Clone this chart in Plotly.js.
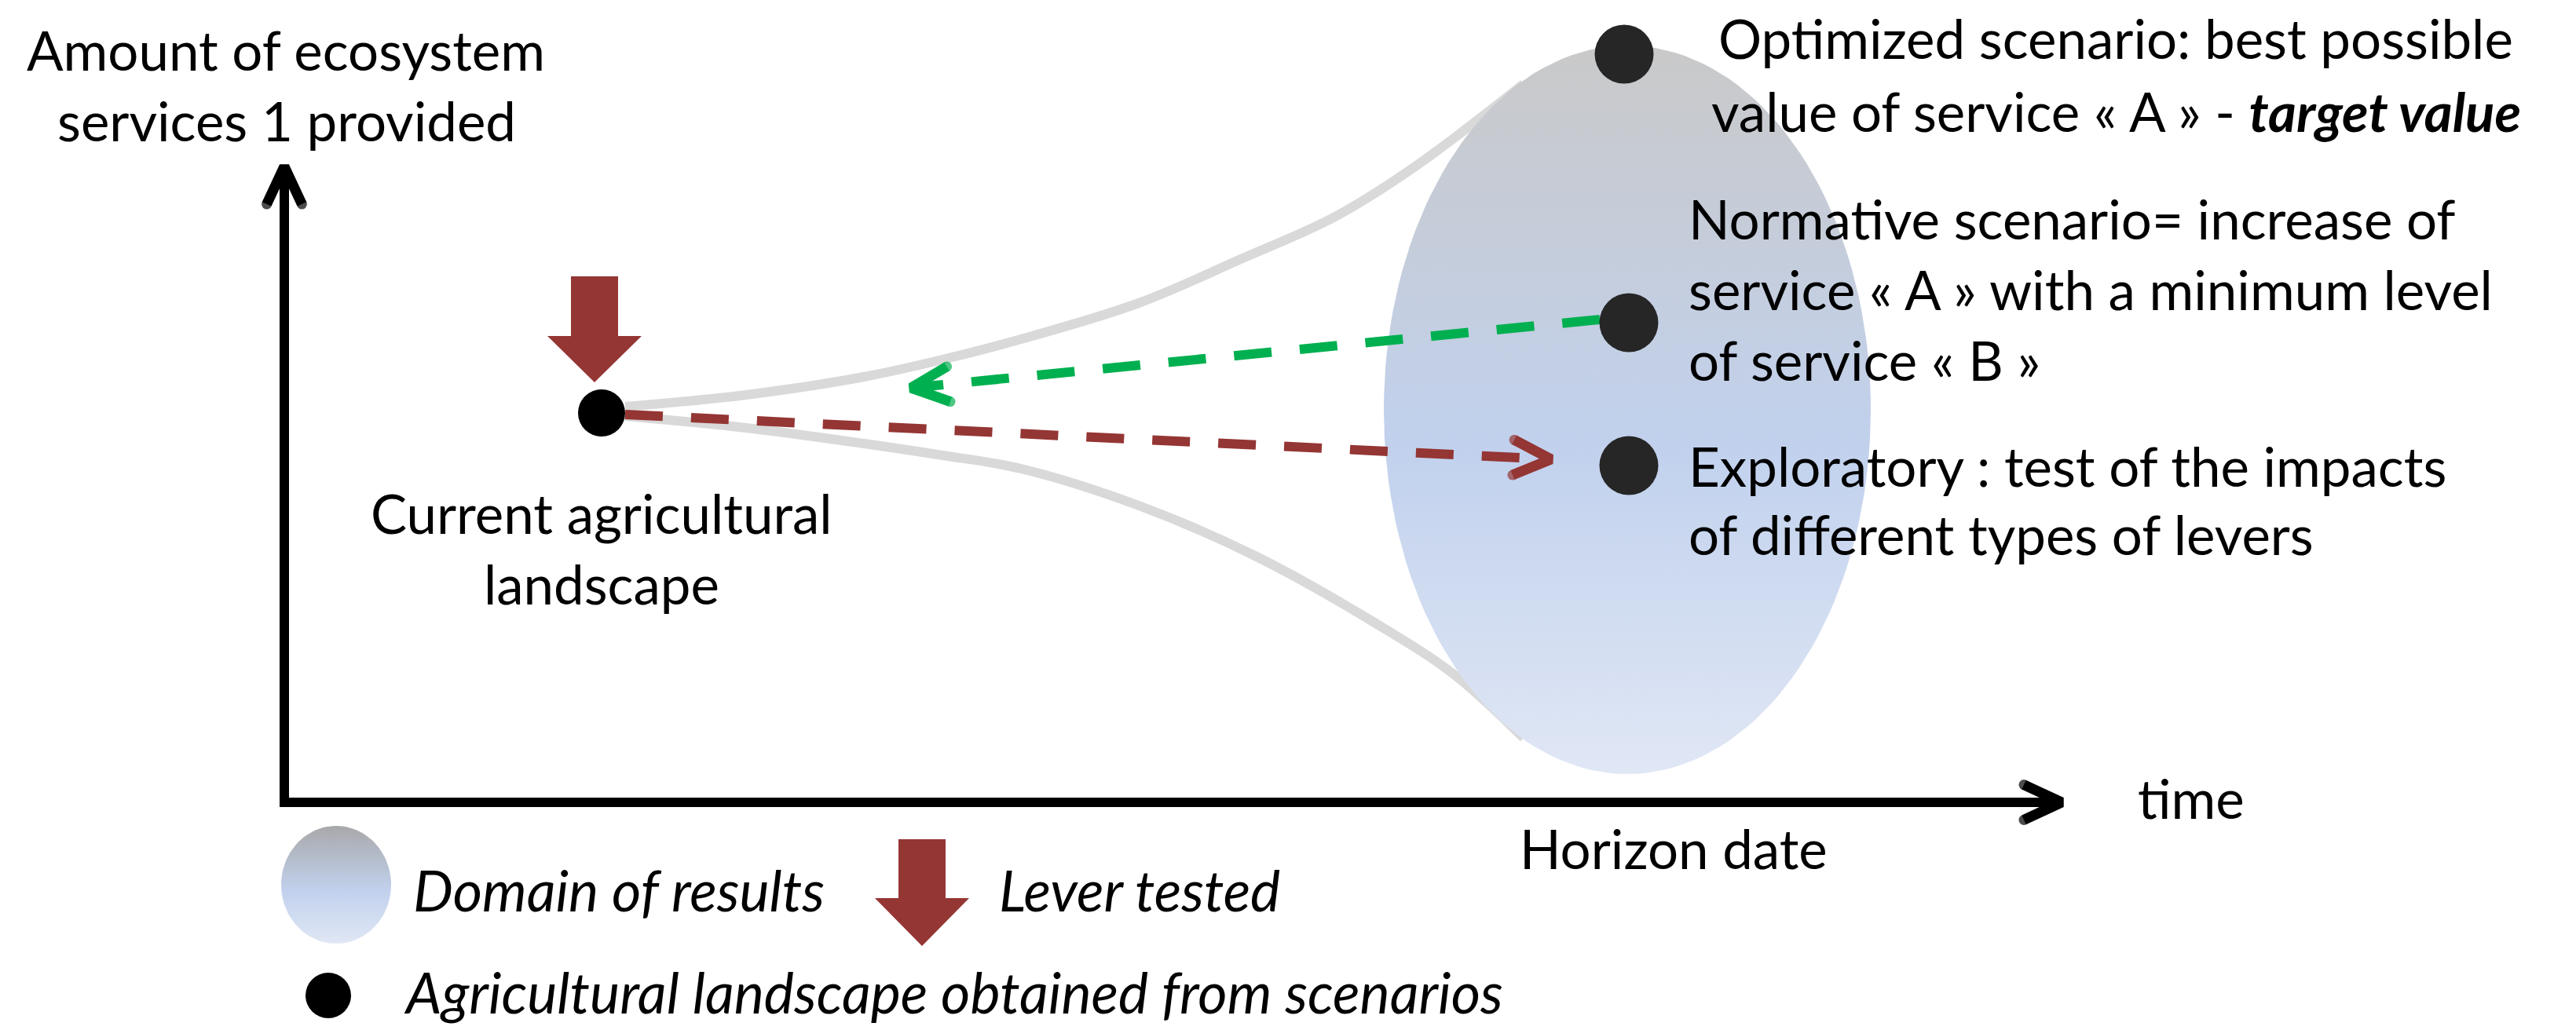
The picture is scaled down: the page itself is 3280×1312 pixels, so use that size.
<!DOCTYPE html>
<html>
<head>
<meta charset="utf-8">
<script src="https://cdn.plot.ly/plotly-3.0.1.min.js"></script>
<style>
html, body { margin: 0; padding: 0; background: #ffffff; }
#chart { width: 3280px; height: 1312px; }
</style>
</head>
<body>
<div id="chart"></div>
<script>
// ---------------- data (diagram coordinates) ----------------
const currentLandscapeX = [766];
const currentLandscapeY = [526];

const scenarioNames = ["Optimized", "Normative", "Exploratory"];
const scenarioX = [2068, 2074, 2074];
const scenarioY = [69, 411, 593];

const upperEnvelopeX = [796, 950, 1100, 1200, 1300, 1450, 1580, 1700, 1802, 1940];
const upperEnvelopeY = [518, 503, 480, 458, 432, 386, 330, 276, 212, 107];
const lowerEnvelopeX = [796, 950, 1100, 1200, 1300, 1450, 1600, 1750, 1850, 1940];
const lowerEnvelopeY = [530, 545, 565, 580, 597, 644, 709, 793, 858, 940];

const domainCenter = [2072, 522];
const domainRadii = [310, 464];

const normativePathX = [2037, 1160];
const normativePathY = [407, 494];
const exploratoryPathX = [796, 1975];
const exploratoryPathY = [528, 585];

const axesX = [362, 362, 2625];
const axesY = [212, 1022, 1022];

const leverArrow = {cx: 757, top: 352, headStart: 428, tip: 487};
const legendLeverArrow = {cx: 1174, top: 1069, headStart: 1144, tip: 1205};
const legendDomainCenter = [428, 1127];
const legendDomainRadii = [70, 75];
const legendDotX = [418];
const legendDotY = [1268];

const yTitleLines = ["Amount of ecosystem", "services 1 provided"];
const yTitleX = [364, 365];
const yTitleY = [63, 153];

const optimizedLines = ["Optimized scenario: best possible",
  "value of service « A » - <b><i>target value</i></b>"];
const optimizedY = [48, 141];
const normativeLines = ["Normative scenario= increase of",
  "service « A » with a minimum level", "of service « B »"];
const normativeY = [278, 368, 458];
const exploratoryLines = ["Exploratory : test of the impacts", "of different types of levers"];
const exploratoryY = [593, 680];
const scenarioTextX = 2148;
const optimizedTextX = 2694;

const currentLines = ["Current agricultural", "landscape"];
const currentTextY = [653, 743];

const legendLabels = ["Domain of results", "Lever tested", "Agricultural landscape obtained from scenarios"];
const legendLabelX = [524, 1270, 512];
const legendLabelY = [1133, 1133, 1263];

// ---------------- styles ----------------
const FONT = "Lato, 'Open Sans', sans-serif";
const FS = 69;
const FS_LEGEND = 72;
const RED = "#943634";
const GREEN = "#00b050";
const GREY_CURVE = "#d9d9d9";
const DOT_DARK = "#262626";
const HEAD_LEN = 53, HEAD_ANG = 25 * Math.PI / 180;

const traces = [];

// gray envelope curves
[[upperEnvelopeX, upperEnvelopeY], [lowerEnvelopeX, lowerEnvelopeY]].forEach(([xs, ys]) => {
  traces.push({x: xs, y: ys, mode: "lines", line: {color: GREY_CURVE, width: 12, shape: "spline", smoothing: 1},
    hoverinfo: "skip"});
});

function ellipsePts(c, r, n) {
  const xs = [], ys = [];
  for (let i = 0; i <= n; i++) {
    const t = 2 * Math.PI * i / n;
    xs.push(c[0] + r[0] * Math.cos(t));
    ys.push(c[1] + r[1] * Math.sin(t));
  }
  return [xs, ys];
}

// domain of results (gradient ellipse)
(function () {
  const [xs, ys] = ellipsePts(domainCenter, domainRadii, 160);
  traces.push({x: xs, y: ys, mode: "lines", fill: "toself", line: {width: 0, color: "rgba(0,0,0,0)"},
    fillgradient: {type: "vertical", start: domainCenter[1] + domainRadii[1], stop: domainCenter[1] - domainRadii[1],
      colorscale: [[0, "rgb(224,231,245)"], [0.45, "rgb(193,209,237)"], [1, "rgb(201,201,201)"]]},
    hoverinfo: "skip"});
})();

function chevron(tipX, tipY, fromX, fromY) {
  const dx = tipX - fromX, dy = tipY - fromY;
  const len = Math.hypot(dx, dy);
  const bx = -dx / len, by = -dy / len; // back direction
  const rot = (a) => [bx * Math.cos(a) - by * Math.sin(a), bx * Math.sin(a) + by * Math.cos(a)];
  const a1 = rot(HEAD_ANG), a2 = rot(-HEAD_ANG);
  return {
    x: [tipX + HEAD_LEN * a1[0], tipX, tipX + HEAD_LEN * a2[0]],
    y: [tipY + HEAD_LEN * a1[1], tipY, tipY + HEAD_LEN * a2[1]],
    ux: -bx, uy: -by
  };
}

function dashedArrow(px, py, color) {
  const ch = chevron(px[1], py[1], px[0], py[0]);
  const endX = px[1] - ch.ux * 12, endY = py[1] - ch.uy * 12;
  traces.push({x: [px[0], endX], y: [py[0], endY], mode: "lines",
    line: {color: color, width: 12, dash: "48px,36px"}, hoverinfo: "skip"});
  traces.push({x: ch.x, y: ch.y, mode: "lines+markers", line: {color: color, width: 13},
    marker: {size: [13, 0, 13], color: color, line: {width: 0}}, hoverinfo: "skip"});
}
dashedArrow(normativePathX, normativePathY, GREEN);
dashedArrow(exploratoryPathX, exploratoryPathY, RED);

// scenario dots
traces.push({x: scenarioX, y: scenarioY, text: scenarioNames, mode: "markers",
  marker: {size: 75, color: DOT_DARK, line: {width: 0}}, hoverinfo: "text"});
// current landscape dot
traces.push({x: currentLandscapeX, y: currentLandscapeY, mode: "markers",
  marker: {size: 60, color: "#000000", line: {width: 0}}, hoverinfo: "skip"});

function blockArrow(a) {
  const sw = 30, hw = 60;
  traces.push({
    x: [a.cx - sw, a.cx + sw, a.cx + sw, a.cx + hw, a.cx, a.cx - hw, a.cx - sw, a.cx - sw],
    y: [a.top, a.top, a.headStart, a.headStart, a.tip, a.headStart, a.headStart, a.top],
    mode: "lines", fill: "toself", fillcolor: RED, line: {width: 0, color: RED}, hoverinfo: "skip"});
}
blockArrow(leverArrow);
blockArrow(legendLeverArrow);

// axes
traces.push({x: axesX, y: axesY, mode: "lines", line: {color: "#000000", width: 12}, hoverinfo: "skip"});
[[axesX[0], axesY[0], axesX[1], axesY[1]], [axesX[2], axesY[2], axesX[1], axesY[1]]].forEach(([tx, ty, fx, fy]) => {
  const ch = chevron(tx, ty, fx, fy);
  traces.push({x: ch.x, y: ch.y, mode: "lines+markers", line: {color: "#000000", width: 13},
    marker: {size: [13, 0, 13], color: "#000000", line: {width: 0}}, hoverinfo: "skip"});
});

// legend symbols
(function () {
  const [xs, ys] = ellipsePts(legendDomainCenter, legendDomainRadii, 100);
  traces.push({x: xs, y: ys, mode: "lines", fill: "toself", line: {width: 0, color: "rgba(0,0,0,0)"},
    fillgradient: {type: "vertical", start: legendDomainCenter[1] + legendDomainRadii[1],
      stop: legendDomainCenter[1] - legendDomainRadii[1],
      colorscale: [[0, "rgb(224,231,245)"], [0.45, "rgb(193,209,237)"], [1, "rgb(168,168,170)"]]},
    hoverinfo: "skip"});
})();
traces.push({x: legendDotX, y: legendDotY, mode: "markers",
  marker: {size: 58, color: "#000000", line: {width: 0}}, hoverinfo: "skip"});

// ---------------- text ----------------
const annotations = [];
function addText(text, x, y, anchor, size) {
  annotations.push({text: text, x: x, y: y, xref: "x", yref: "y", xanchor: anchor, yanchor: "middle",
    showarrow: false, font: {family: FONT, size: size || FS, color: "#000000"}});
}
yTitleLines.forEach((t, i) => addText(t, yTitleX[i], yTitleY[i], "center"));
optimizedLines.forEach((t, i) => addText(t, optimizedTextX, optimizedY[i], "center"));
normativeLines.forEach((t, i) => addText(t, scenarioTextX, normativeY[i], "left"));
exploratoryLines.forEach((t, i) => addText(t, scenarioTextX, exploratoryY[i], "left"));
currentLines.forEach((t, i) => addText(t, currentLandscapeX[0], currentTextY[i], "center"));
addText("time", 2720, 1016, "left");
addText("Horizon date", 2131, 1080, "center");
legendLabels.forEach((t, i) => addText("<i>" + t + "</i>", legendLabelX[i], legendLabelY[i], "left", FS_LEGEND));

const layout = {
  width: 3280, height: 1312,
  margin: {l: 0, r: 0, t: 0, b: 0, pad: 0},
  paper_bgcolor: "#ffffff", plot_bgcolor: "#ffffff",
  showlegend: false,
  xaxis: {range: [0, 3280], visible: false, fixedrange: true},
  yaxis: {range: [1312, 0], visible: false, fixedrange: true},
  annotations: annotations
};

Plotly.newPlot("chart", traces, layout, {staticPlot: true, displayModeBar: false});
</script>
</body>
</html>
